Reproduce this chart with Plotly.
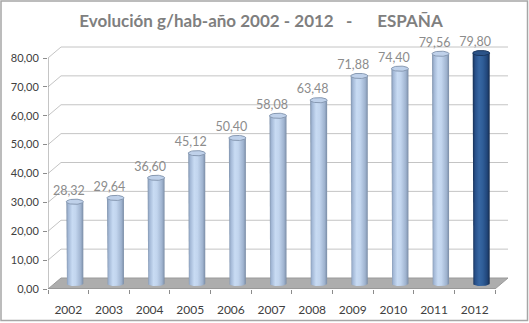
import numpy as np
import plotly.graph_objects as go

# ---------------- data ----------------
years = ["2002", "2003", "2004", "2005", "2006", "2007", "2008", "2009", "2010", "2011", "2012"]
values = [28.32, 29.64, 36.60, 45.12, 50.40, 58.08, 63.48, 71.88, 74.40, 79.56, 79.80]
y_ticks = [0, 10, 20, 30, 40, 50, 60, 70, 80]
highlight_year = "2012"
title_text = "Evolución g/hab-año 2002 - 2012\u00a0\u00a0\u00a0-\u00a0\u00a0\u00a0\u00a0\u00a0\u00a0ESPAÑA"

# ---------------- geometry / style ----------------
W, H = 529, 323
ML, MR, MT, MB = 48, 19, 40, 34
PW, PH = W - ML - MR, H - MT - MB
PX_X = 447 / len(years)          # px per category on the front plane
PX_Y = 231 / 80.0                # px per value unit
x_range = [-0.5, -0.5 + PW / PX_X]
y_range = [0, PH / PX_Y]
DX = 13 / PX_X                   # depth offset (x) of back wall
DY = 11 / PX_Y                   # depth offset (y) of back wall
BW = 8.5 / PX_X                  # cylinder half width
RY = 2.6 / PX_Y                  # cylinder cap half height

light_scale = [[0, "#7f92ab"], [0.12, "#a3b8d6"], [0.35, "#c8dbf3"], [0.55, "#c2d5ee"],
               [0.85, "#9fb3cf"], [1, "#7a8ca5"]]
dark_scale = [[0, "#172f52"], [0.15, "#28508a"], [0.38, "#3767a3"], [0.6, "#2f5d97"],
              [0.85, "#21467a"], [1, "#142a4b"]]

fig = go.Figure()

n = len(years)
xl, xr = -0.5, n - 0.5

# floor
floor_path = f"M {xl},0 L {xr},0 L {xr+DX},{DY} L {xl+DX},{DY} Z"
shapes = [dict(type="path", path=floor_path, xref="x", yref="y", fillcolor="#adadad",
               line=dict(color="#9a9a9a", width=1), layer="below")]
# back wall gridlines with diagonal connectors
for v in y_ticks:
    if v == 0:
        continue
    p = f"M {xl},{v} L {xl+DX},{v+DY} L {xr+DX},{v+DY}"
    shapes.append(dict(type="path", path=p, xref="x", yref="y",
                       line=dict(color="#c4c4c4", width=1), layer="below"))
# axis lines
shapes.append(dict(type="line", xref="x", yref="y", x0=xl, x1=xl, y0=0, y1=max(y_ticks),
                   line=dict(color="#8c8c8c", width=1), layer="below"))
shapes.append(dict(type="line", xref="x", yref="y", x0=xl, x1=xr, y0=0, y1=0,
                   line=dict(color="#8c8c8c", width=1), layer="below"))
# chart border
def px_to_paper_x(px):
    return (px - ML) / PW
def px_to_paper_y(py):
    return (H - MB - py) / PH
shapes.append(dict(type="rect", xref="paper", yref="paper",
                   x0=px_to_paper_x(1), x1=px_to_paper_x(527.5),
                   y0=px_to_paper_y(320.5), y1=px_to_paper_y(1),
                   line=dict(color="#a6a6a6", width=1.5), layer="above"))

# cylinders
th_bot = np.linspace(np.pi, 2 * np.pi, 25)
th_full = np.linspace(0, 2 * np.pi, 49)
for i, (yr, v) in enumerate(zip(years, values)):
    cx = i + DX / 2
    b = DY / 2
    t = v + DY / 2
    hi = yr == highlight_year
    bx = [cx - BW, cx - BW] + list(cx + BW * np.cos(th_bot)) + [cx + BW, cx + BW]
    by = [t, b] + list(b + RY * np.sin(th_bot)) + [b, t]
    fig.add_trace(go.Scatter(
        x=bx, y=by, mode="lines", fill="toself", line=dict(width=0, color="rgba(0,0,0,0)"),
        fillgradient=dict(type="horizontal", colorscale=dark_scale if hi else light_scale),
        hoverinfo="skip", showlegend=False))
    ex = cx + BW * np.cos(th_full)
    ey = t + RY * np.sin(th_full)
    fig.add_trace(go.Scatter(
        x=ex, y=ey, mode="lines", fill="toself",
        fillcolor="#2b5388" if hi else "#bfd1ea",
        line=dict(width=1, color="#1a365e" if hi else "#8799b2"),
        hoverinfo="skip", showlegend=False))

# value labels
fig.add_trace(go.Scatter(
    x=[i + DX / 2 - 6 / PX_X for i in range(n)],
    y=[v + DY / 2 + 10 / PX_Y for v in values],
    mode="text", text=[f"{v:.2f}".replace(".", ",") for v in values],
    textfont=dict(family="Lato", size=12.5, color="#8c8c8c"),
    textposition="middle center", cliponaxis=False, hoverinfo="skip", showlegend=False))

fig.update_layout(
    width=W, height=H, margin=dict(l=ML, r=MR, t=MT, b=MB, autoexpand=False),
    paper_bgcolor="white", plot_bgcolor="white",
    separators=",.",
    shapes=shapes,
    title=dict(text=f"<b>{title_text}</b>", x=261 / W, xanchor="center",
               y=1 - 21 / H, yanchor="middle", xref="container", yref="container",
               font=dict(family="Lato", size=17, color="#7f7f7f")),
    xaxis=dict(range=x_range, showgrid=False, zeroline=False, showline=False,
               tickmode="array", tickvals=list(range(n)), ticktext=years, ticks="",
               ticklabelstandoff=12,
               tickfont=dict(family="Lato", size=12, color="#404040"),
               minor=dict(tickmode="array", tickvals=[k - 0.5 for k in range(n + 1)],
                          ticks="outside", ticklen=4, tickcolor="#8c8c8c", showgrid=False)),
    yaxis=dict(range=y_range, showgrid=False, zeroline=False, showline=False,
               tickmode="array", tickvals=y_ticks, tickformat=".2f", ticks="outside",
               ticklen=4, tickcolor="#8c8c8c", ticklabelstandoff=2,
               tickfont=dict(family="Lato", size=11, color="#404040")),
)

fig.write_html("out.html")
